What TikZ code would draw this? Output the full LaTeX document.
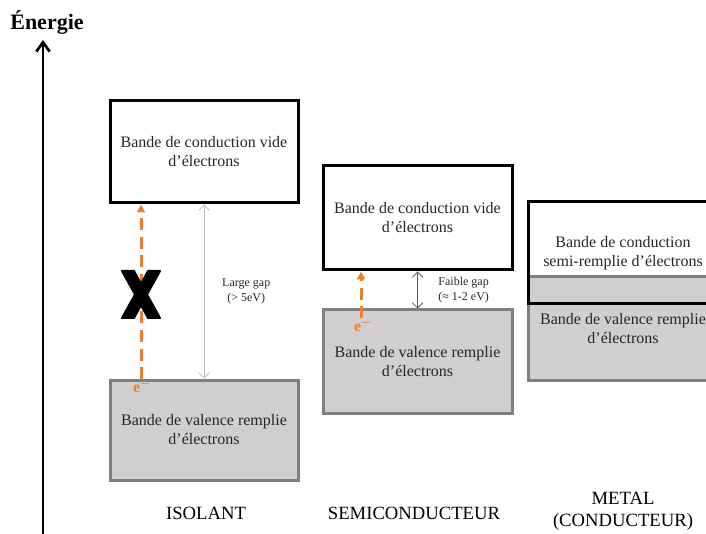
\documentclass[tikz,border=0pt]{standalone}
\usepackage{fontspec}
\setmainfont{Liberation Serif}
\usepackage{xcolor}
\usetikzlibrary{arrows.meta}

\definecolor{bandgray}{HTML}{D0CECE}
\definecolor{bordergray}{HTML}{7F7F7F}
\definecolor{eorange}{HTML}{ED7D31}
\definecolor{gaplight}{HTML}{BFBFBF}
\definecolor{gapdark}{HTML}{595959}
\definecolor{textdark}{HTML}{262626}

\begin{document}
\begin{tikzpicture}[x=0.75pt, y=-0.75pt,
    condband/.style={draw=black, line width=2.25pt, align=center, inner sep=0pt, text=textdark, font=\fontsize{12}{14.25}\selectfont},
    valband/.style={draw=bordergray, fill=bandgray, line width=2.25pt, align=center, inner sep=0pt, text=textdark, font=\fontsize{12}{14.25}\selectfont},
    gaplabel/.style={align=center, text=textdark, font=\fontsize{9}{11.5}\selectfont},
    material/.style={align=center, text=black, font=\fontsize{14}{16.5}\selectfont},
    electron/.style={text=eorange, font=\fontsize{12}{12}\bfseries\boldmath\selectfont, inner sep=0pt},
    jump/.style={draw=eorange, line width=2.25pt, dash pattern=on 9pt off 5pt, -{Triangle[length=6pt, width=6pt]}},
    gap/.style={line width=0.6pt, {Straight Barb[length=4pt]}-{Straight Barb[length=4pt]}}]
    \clip (0,0) rectangle (706,534);

    % Axis
    \node[font=\fontsize{16.5}{16.5}\bfseries\selectfont, inner sep=0pt] (energie) at (47,22) {Énergie};
    \coordinate (axbot) at (43,540);
    \coordinate (axtop) at (43,40);
    \draw[line width=2pt, -{Straight Barb[length=7pt, width=10pt, line width=2pt]}] (axbot) -- (axtop);

    % Nodes
    \node[condband, minimum width=141pt, minimum height=76.5pt] (isoc) at (204,152) {Bande de conduction vide\\d’électrons};
    \node[valband, minimum width=141pt, minimum height=75pt] (isov) at (204,430) {Bande de valence remplie\\d’électrons};

    \node[condband, minimum width=141.75pt, minimum height=78pt] (semic) at (417.5,218) {Bande de conduction vide\\d’électrons};
    \node[valband, minimum width=141.75pt, minimum height=77.25pt] (semiv) at (417.5,361.5) {Bande de valence remplie\\d’électrons};

    \node[valband, minimum width=142.5pt, minimum height=77.25pt] (metv) at (623,328.5) {\raisebox{-3pt}{\shortstack{Bande de valence remplie\\d’électrons}}};
    \node[condband, minimum width=142.5pt, minimum height=76.5pt] (metc) at (623,253) {Bande de conduction\\semi-remplie d’électrons};

    \node[material] (isolant) at (206,513) {ISOLANT};
    \node[material] (semi) at (414,513) {SEMICONDUCTEUR};
    \node[material] (metal) at (623,511) {METAL\\(CONDUCTEUR)};

    \node[electron] (eiso) at (142,386) {e$^{-}$};
    \node[electron] (esemi) at (363,325) {e$^{-}$};

    % Arrows
    \draw[jump] (eiso.north -| 141,0) -- (isoc.south -| 141,0);
    \draw[jump] (esemi.north -| 361,0) -- (semic.south -| 361,0);

    % Cross
    \fill[line join=round, draw=black, line width=1.5pt]
        (122,271) -- (134,271) -- (141,284) -- (148,271) -- (160,271) -- (147,294.5)
        -- (160,318) -- (148,318) -- (141,305) -- (134,318) -- (122,318) -- (135,294.5) -- cycle;

    \draw[gap, draw=gaplight] (isoc.south) -- node[gaplabel, right=10pt] (isogap) {Large gap\\(> 5eV)} (isov.north);
    \draw[gap, draw=gapdark] (semic.south) -- node[gaplabel, right=12pt] (semigap) {Faible gap\\(≈ 1-2 eV)} (semiv.north);
\end{tikzpicture}
\end{document}
